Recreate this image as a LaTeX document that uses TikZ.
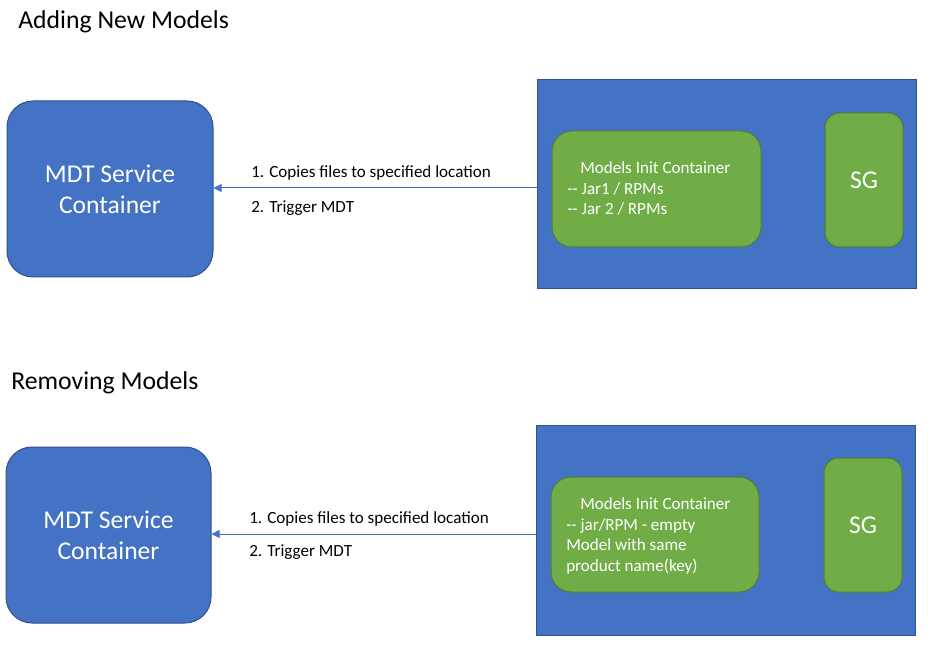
\documentclass[tikz,border=0pt]{standalone}
\usepackage{fontspec}
\setmainfont{Carlito}
\usetikzlibrary{arrows.meta}
\definecolor{bluefill}{HTML}{4472C4}
\definecolor{blueline}{HTML}{2F528F}
\definecolor{greenfill}{HTML}{70AD47}
\definecolor{greenline}{HTML}{507E32}
\tikzset{
  mdtbox/.style={draw=blueline, fill=bluefill, rounded corners=19.5pt, line width=0.75pt, text=white, align=center, font=\fontsize{19.2pt}{23pt}\selectfont},
  outerbox/.style={draw=blueline, fill=bluefill, line width=0.75pt},
  initbox/.style={draw=greenline, fill=greenfill, rounded corners=15pt, line width=0.75pt},
  sgbox/.style={draw=greenline, fill=greenfill, rounded corners=11pt, line width=0.75pt, text=white, font=\fontsize{19.2pt}{22pt}\selectfont},
  inittext/.style={text=white, align=left, anchor=north west, inner sep=0pt, font=\fontsize{12.8pt}{15.4pt}\selectfont},
  lbl/.style={anchor=west, inner sep=0pt, font=\fontsize{12.8pt}{15pt}\selectfont},
  title/.style={anchor=west, inner sep=0pt, font=\fontsize{19.3pt}{22pt}\selectfont},
  conn/.style={draw=bluefill, line width=0.75pt, -{Triangle[length=6pt,width=6pt]}}
}
\begin{document}
\begin{tikzpicture}[x=0.75pt,y=-0.75pt]
\useasboundingbox (0,0) rectangle (928,645);
\fill[white] (0,0) rectangle (928,645);

% ---------- Adding New Models ----------
\node[title] (t1) at (18,21.5) {Adding New Models};
\node[mdtbox, minimum width=206*0.75pt, minimum height=176*0.75pt] (mdt1) at (110,189) {MDT Service\\Container};
\node[outerbox, minimum width=379*0.75pt, minimum height=209*0.75pt, inner sep=0pt] (out1) at (726.5,184.5) {};
\node[initbox, minimum width=209*0.75pt, minimum height=116*0.75pt, inner sep=0pt] (init1) at (656.5,189) {};
\node[inittext] (it1) at (567,161.5) {\hspace*{9.75pt}Models Init Container\\-{}- Jar1 / RPMs\\-{}- Jar 2 / RPMs};
\node[sgbox, minimum width=78*0.75pt, minimum height=134*0.75pt, inner sep=0pt] (sg1) at (864,180) {\raisebox{-1.5pt}{SG}};
\coordinate (a1) at (out1.west |- 0,188);
\draw[conn] (a1) -- (mdt1.east |- a1);
\node[lbl] (l1a) at (251,173) {1. Copies files to specified location};
\node[lbl] (l1b) at (251,208) {2. Trigger MDT};

% ---------- Removing Models ----------
\node[title] (t2) at (11,382.5) {Removing Models};
\node[mdtbox, minimum width=205*0.75pt, minimum height=176*0.75pt] (mdt2) at (108.5,535) {MDT Service\\Container};
\node[outerbox, minimum width=379*0.75pt, minimum height=210*0.75pt, inner sep=0pt] (out2) at (725.5,530) {};
\node[initbox, minimum width=208*0.75pt, minimum height=115*0.75pt, inner sep=0pt] (init2) at (655,534.5) {};
\node[inittext] (it2) at (566,497.5) {\hspace*{10.5pt}Models Init Container\\-{}- jar/RPM - empty\\Model with same\\product name(key)};
\node[sgbox, minimum width=78*0.75pt, minimum height=134*0.75pt, inner sep=0pt] (sg2) at (863,525) {\raisebox{-1.5pt}{SG}};
\coordinate (a2) at (out2.west |- 0,534);
\draw[conn] (a2) -- (mdt2.east |- a2);
\node[lbl] (l2a) at (249,519) {1. Copies files to specified location};
\node[lbl] (l2b) at (249,552) {2. Trigger MDT};
\end{tikzpicture}
\end{document}
